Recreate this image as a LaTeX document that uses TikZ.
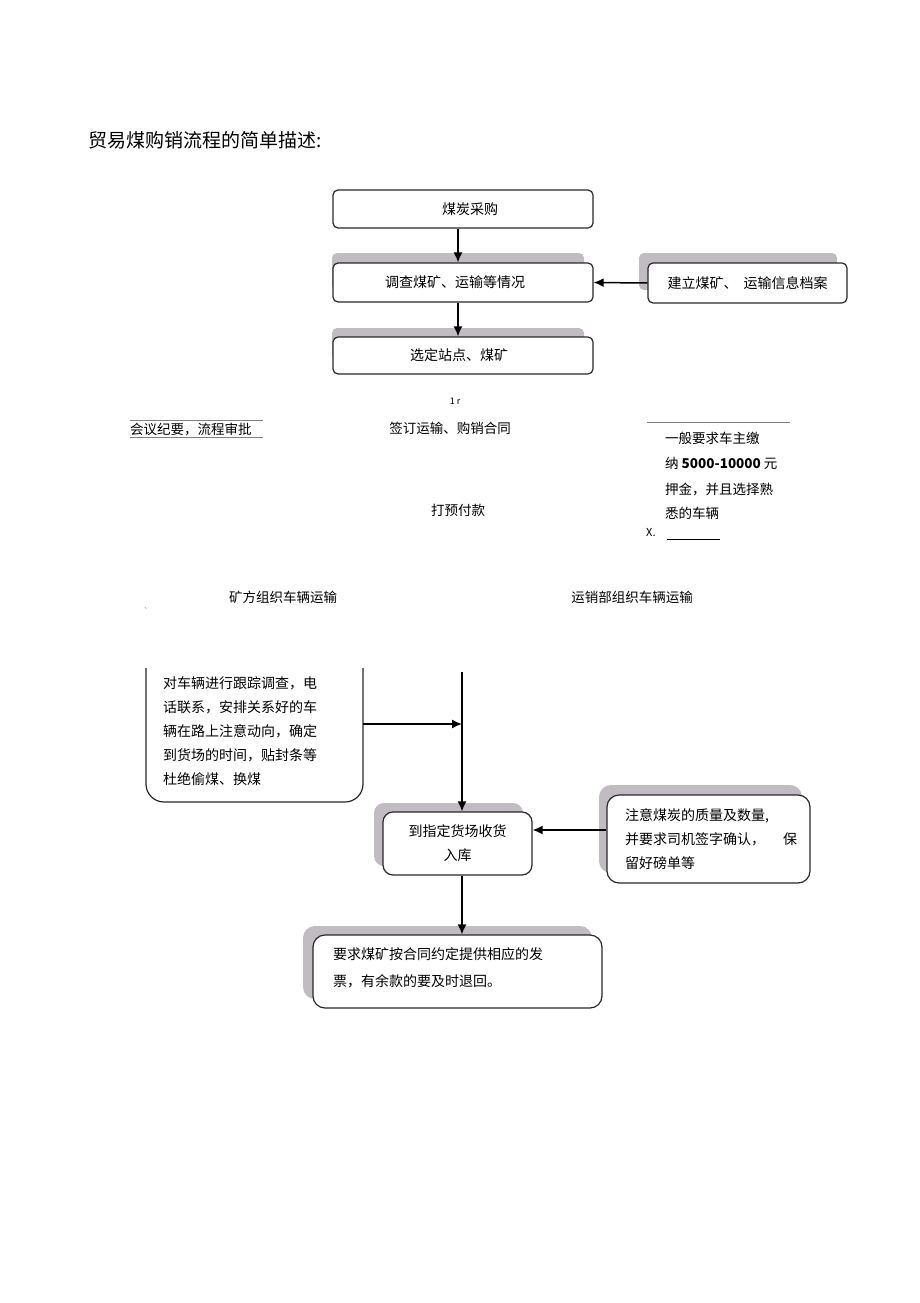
\documentclass[tikz,border=0pt]{standalone}
\usepackage{fontspec}
\setmainfont{Noto Sans CJK SC}
\usetikzlibrary{arrows.meta}
\definecolor{shadowc}{RGB}{192,188,194}
\definecolor{boxline}{RGB}{40,40,40}
\tikzset{
  arr/.style={draw=black, line width=1.5pt, -{Latex[length=10pt,width=9pt]}},
  tbox/.style={draw=boxline, line width=1.2pt, rounded corners=5pt, fill=white, align=center, inner sep=0pt, font=\fontsize{14}{16}\selectfont},
  bbox/.style={draw=boxline, line width=1.2pt, rounded corners=10pt, fill=white, inner sep=0pt, font=\fontsize{14}{24}\selectfont},
  plain/.style={inner sep=0pt, font=\fontsize{13.5}{16}\selectfont},
  shad/.style={fill=shadowc},
}
\begin{document}
\begin{tikzpicture}[x=1pt,y=-1pt]
\useasboundingbox (0,0) rectangle (920,1303);
\fill[white] (0,0) rectangle (920,1303);

% title
\node[anchor=west, inner sep=0pt, font=\fontsize{19}{21}\selectfont] (title) at (88,140) {贸易煤购销流程的简单描述:};

% top boxes
\node[tbox, minimum width=260pt, minimum height=38pt] (b1) at (463,209) {\hspace*{14pt}煤炭采购};
\fill[shad, rounded corners=5pt] (332,253) rectangle (584,290);
\node[tbox, minimum width=260pt, minimum height=39pt] (b2) at (463,282.5) {调查煤矿、运输等情况\hspace*{16pt}};
\fill[shad, rounded corners=5pt] (639,253) rectangle (837,290);
\node[tbox, minimum width=199pt, minimum height=40pt] (b3) at (747.5,283) {建立煤矿、\hspace{6pt}运输信息档案};
\fill[shad, rounded corners=5pt] (332,328) rectangle (584,360);
\node[tbox, minimum width=260pt, minimum height=37pt] (b4) at (463,355.5) {选定站点、煤矿\hspace*{8pt}};

\draw[arr] ([xshift=-5pt]b1.south) -- ([xshift=-5pt]b2.north);
\draw[arr] ([xshift=-5pt]b2.south) -- ([xshift=-5pt]b4.north);
\draw[arr] (b3.west) -- (b2.east);

% middle texts
\node[inner sep=0pt, font=\fontsize{9}{10}\selectfont] (onr) at (455,401) {1 r};
\node[plain, anchor=west] (hy) at (130,430) {会议纪要，流程审批};
\draw[line width=0.6pt, gray] (hy.west |- 0,420) -- (263,420);
\draw[line width=0.6pt, gray] (hy.west |- 0,437) -- (263,437);
\node[plain] (qd) at (450,428) {签订运输、购销合同};
\coordinate (rl1) at (647,422);
\coordinate (rl2) at (790,422);
\draw[line width=0.6pt, gray] (rl1) -- (rl2);
\node[plain, anchor=west] (r1) at (665,438) {一般要求车主缴};
\node[plain, anchor=west] (r2) at (665,463) {纳 \textbf{5000-10000} 元};
\node[plain, anchor=west] (r3) at (665,489) {押金，并且选择熟};
\node[plain, anchor=west] (r4) at (665,513) {悉的车辆};
\node[inner sep=0pt, anchor=west, font=\fontsize{11}{12}\selectfont] (xx) at (646,533) {X.};
\coordinate (xl1) at (667,539);
\coordinate (xl2) at (720,539);
\draw[line width=0.8pt] (xl1) -- (xl2);
\node[plain] (yf) at (458,510) {打预付款};

\node[plain] (kf) at (283,597) {矿方组织车辆运输};
\node[plain] (yx) at (632,597) {运销部组织车辆运输};
\node[inner sep=0pt, text=gray, font=\fontsize{8}{8}\selectfont] (mk) at (146,611) {\textasciigrave};

% left open box
\draw[draw=boxline, line width=1.2pt, rounded corners=18pt] (146,668) -- (146,802) -- (363,802) -- (363,668);
\node[anchor=north west, inner sep=0pt, align=left, font=\fontsize{14}{24}\selectfont] (b5) at (163,676)
 {对车辆进行跟踪调查，电\\话联系，安排关系好的车\\辆在路上注意动向，确定\\到货场的时间，贴封条等\\杜绝偷煤、换煤};
\coordinate (b5e) at (363,724);

% vertical line and box6
\fill[shad, rounded corners=10pt] (374,803) rectangle (523,866);
\node[bbox, minimum width=149pt, minimum height=63pt, align=center] (b6) at (457.5,843.5) {到指定货场收货\\入库};
\coordinate (vtop) at (462,672);
\draw[arr] (vtop) -- (b6.north -| vtop);
\draw[arr] (b5e) -- (vtop |- b5e);

% right box7
\fill[shad, rounded corners=12pt] (599,785) rectangle (802,873);
\node[bbox, rounded corners=12pt, minimum width=203pt, minimum height=88pt] (b7) at (708.5,839) {};
\node[anchor=north west, inner sep=0pt, align=left, font=\fontsize{14}{24}\selectfont] (b7t) at (625,808)
 {注意煤炭的质量及数量,\\并要求司机签字确认，\hspace{18pt}保\\留好磅单等};
\draw[arr] (b7.west |- 0,830) -- (b6.east |- 0,830);

% box8
\fill[shad, rounded corners=12pt] (303,926) rectangle (592,999);
\node[bbox, rounded corners=12pt, minimum width=289pt, minimum height=73pt] (b8) at (457.5,971.5) {};
\node[anchor=north west, inner sep=0pt, align=left, font=\fontsize{14}{27}\selectfont] (b8t) at (333,947)
 {要求煤矿按合同约定提供相应的发\\票，有余款的要及时退回。};
\draw[arr] (b6.south -| vtop) -- (b8.north -| vtop);
\end{tikzpicture}
\end{document}
